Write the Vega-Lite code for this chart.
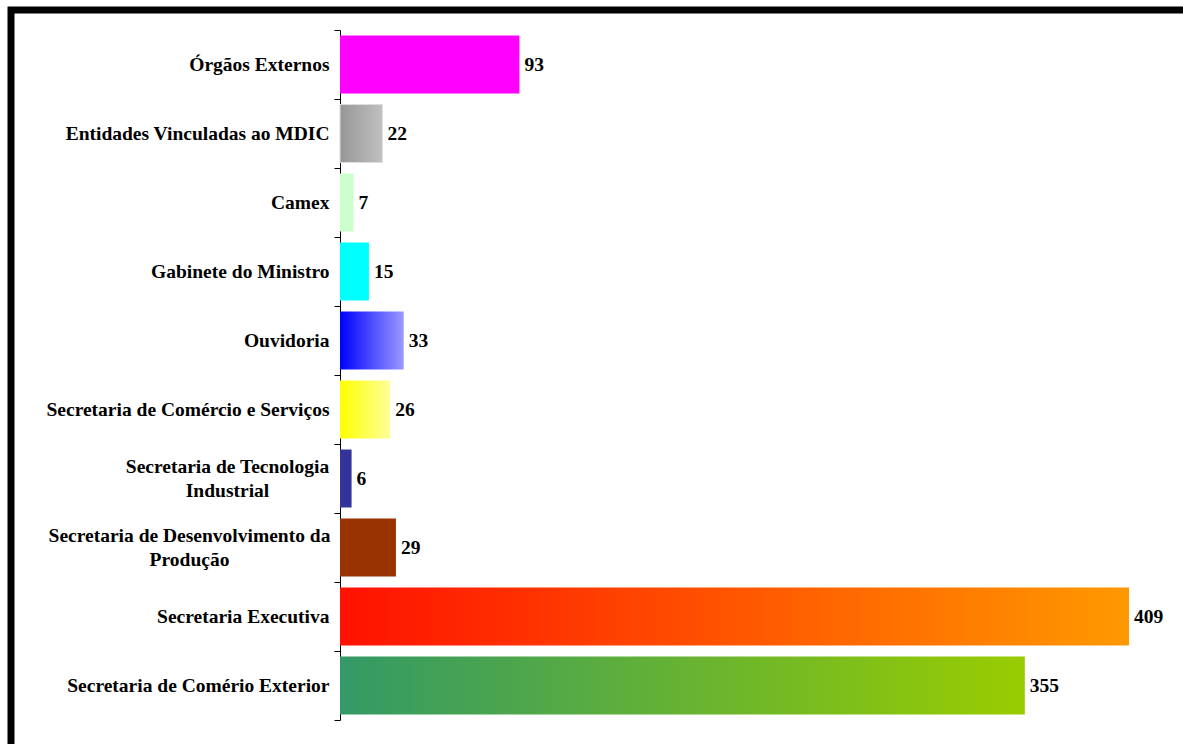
{
  "$schema": "https://vega.github.io/schema/vega-lite/v6.json",
  "autosize": "none",
  "width": 1182,
  "height": 744,
  "padding": {"left": 11, "top": 10, "right": -10, "bottom": -10},
  "background": "white",
  "config": {
    "view": {"stroke": "black", "strokeWidth": 7, "strokeDash": [1182, 1926, 744], "strokeCap": "square", "fill": "white"}
  },
  "data": {
    "values": [
      {"cat": "Órgãos Externos", "value": 93},
      {"cat": "Entidades Vinculadas ao MDIC", "value": 22},
      {"cat": "Camex", "value": 7},
      {"cat": "Gabinete do Ministro", "value": 15},
      {"cat": "Ouvidoria", "value": 33},
      {"cat": "Secretaria de Comércio e Serviços", "value": 26},
      {"cat": "Secretaria de Tecnologia Industrial", "value": 6},
      {"cat": "Secretaria de Desenvolvimento da Produção", "value": 29},
      {"cat": "Secretaria Executiva", "value": 409},
      {"cat": "Secretaria de Comério Exterior", "value": 355}
    ]
  },
  "encoding": {
    "y": {
      "field": "cat", "type": "nominal", "sort": null,
      "scale": {
        "domain": ["Órgãos Externos", "Entidades Vinculadas ao MDIC", "Camex", "Gabinete do Ministro", "Ouvidoria", "Secretaria de Comércio e Serviços", "Secretaria de Tecnologia Industrial", "Secretaria de Desenvolvimento da Produção", "Secretaria Executiva", "Secretaria de Comério Exterior"],
        "range": [20, 710], "paddingInner": 0, "paddingOuter": 0
      },
      "axis": {
        "orient": "left", "offset": -329, "title": null, "tickBand": "extent",
        "domainColor": "black", "domainWidth": 1, "tickColor": "black", "tickSize": 6, "tickWidth": 1,
        "labelFont": "Liberation Serif", "labelFontSize": 19.5, "labelFontWeight": "bold", "labelColor": "black",
        "labelLimit": 0, "labelLineHeight": 24, "labelOverlap": false,
        "labelAlign": {"condition": {"test": "datum.value == 'Secretaria de Tecnologia Industrial' || datum.value == 'Secretaria de Desenvolvimento da Produção'", "value": "center"}, "value": "right"},
        "labelOffset": {"condition": {"test": "datum.value == 'Secretaria de Tecnologia Industrial' || datum.value == 'Secretaria de Desenvolvimento da Produção'", "value": -12}, "value": 0},
        "labelPadding": {"condition": [{"test": "datum.value == 'Secretaria de Tecnologia Industrial'", "value": 107}, {"test": "datum.value == 'Secretaria de Desenvolvimento da Produção'", "value": 145}], "value": 5},
        "labelExpr": "datum.label == 'Secretaria de Tecnologia Industrial' ? ['Secretaria de Tecnologia', 'Industrial'] : datum.label == 'Secretaria de Desenvolvimento da Produção' ? ['Secretaria de Desenvolvimento da', 'Produção'] : datum.label"
      }
    },
    "x": {
      "field": "value", "type": "quantitative",
      "scale": {"domain": [0, 409], "range": [329, 1118]},
      "axis": null
    }
  },
  "layer": [
    {
      "transform": [{"filter": "indexof(['Entidades Vinculadas ao MDIC','Ouvidoria','Secretaria de Comércio e Serviços','Secretaria Executiva','Secretaria de Comério Exterior'], datum.cat) < 0"}],
      "mark": {"type": "bar", "height": {"band": 0.84}},
      "encoding": {
        "color": {
          "field": "cat", "type": "nominal", "legend": null,
          "scale": {
            "domain": ["Órgãos Externos", "Camex", "Gabinete do Ministro", "Secretaria de Tecnologia Industrial", "Secretaria de Desenvolvimento da Produção"],
            "range": ["#FF00FF", "#CCFFCC", "#00FFFF", "#333399", "#993300"]
          }
        }
      }
    },
    {
      "transform": [{"filter": "datum.cat == 'Entidades Vinculadas ao MDIC'"}],
      "mark": {"type": "bar", "height": {"band": 0.84}, "stroke": "#DDDDDD", "strokeWidth": 1,
        "color": {"gradient": "linear", "x1": 0, "x2": 1, "y1": 0, "y2": 0, "stops": [{"offset": 0, "color": "#969696"}, {"offset": 1, "color": "#C0C0C0"}]}},
      "encoding": {}
    },
    {
      "transform": [{"filter": "datum.cat == 'Ouvidoria'"}],
      "mark": {"type": "bar", "height": {"band": 0.84},
        "color": {"gradient": "linear", "x1": 0, "x2": 1, "y1": 0, "y2": 0, "stops": [{"offset": 0, "color": "#0000FF"}, {"offset": 1, "color": "#9999FF"}]}},
      "encoding": {}
    },
    {
      "transform": [{"filter": "datum.cat == 'Secretaria de Comércio e Serviços'"}],
      "mark": {"type": "bar", "height": {"band": 0.84},
        "color": {"gradient": "linear", "x1": 0, "x2": 1, "y1": 0, "y2": 0, "stops": [{"offset": 0, "color": "#FFFF00"}, {"offset": 1, "color": "#FFFF99"}]}},
      "encoding": {}
    },
    {
      "transform": [{"filter": "datum.cat == 'Secretaria Executiva'"}],
      "mark": {"type": "bar", "height": {"band": 0.84},
        "color": {"gradient": "linear", "x1": 0, "x2": 1, "y1": 0, "y2": 0, "stops": [{"offset": 0, "color": "#FF1100"}, {"offset": 1, "color": "#FF9900"}]}},
      "encoding": {}
    },
    {
      "transform": [{"filter": "datum.cat == 'Secretaria de Comério Exterior'"}],
      "mark": {"type": "bar", "height": {"band": 0.84},
        "color": {"gradient": "linear", "x1": 0, "x2": 1, "y1": 0, "y2": 0, "stops": [{"offset": 0, "color": "#339966"}, {"offset": 1, "color": "#99CC00"}]}},
      "encoding": {}
    },
    {
      "mark": {"type": "text", "align": "left", "baseline": "middle", "dx": 5, "font": "Liberation Serif", "fontSize": 19.5, "fontWeight": "bold", "color": "black"},
      "encoding": {"text": {"field": "value", "type": "quantitative"}}
    }
  ]
}
